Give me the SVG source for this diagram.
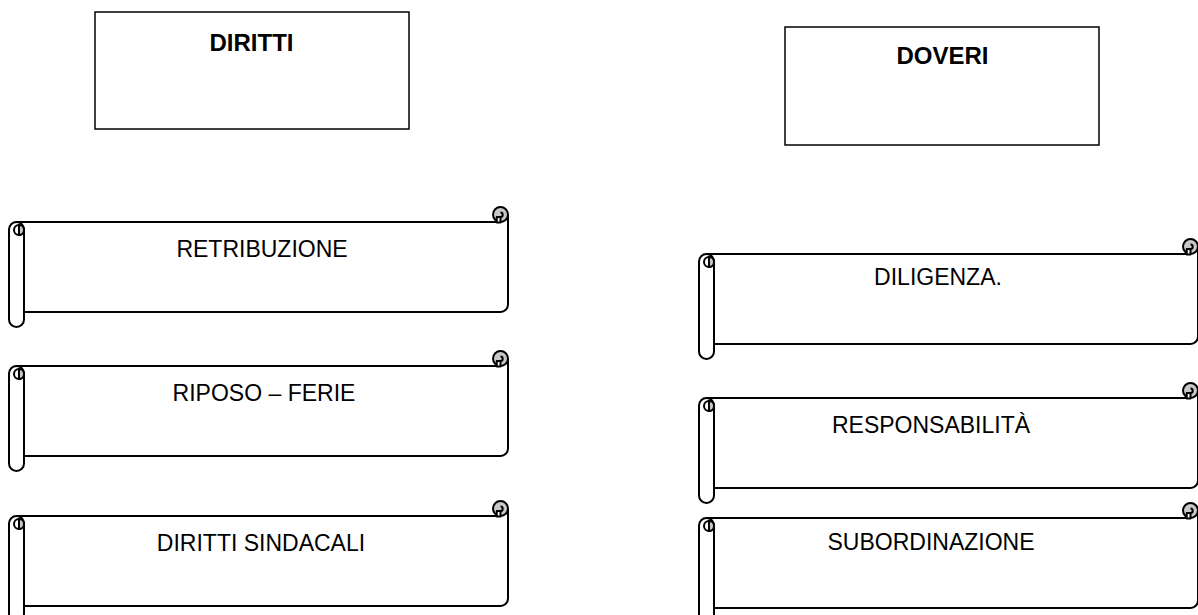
<svg xmlns="http://www.w3.org/2000/svg" xmlns:xlink="http://www.w3.org/1999/xlink" width="1198" height="615" viewBox="0 0 1198 615">
<style>
.box{fill:#fff;stroke:#000;stroke-width:1.5}
.ln{fill:none;stroke:#000;stroke-width:2;stroke-linejoin:round}
.wf{fill:#fff;stroke:#000;stroke-width:2;stroke-linejoin:round}
.gf{fill:#c8c8c8;stroke:#000;stroke-width:2}
.hd{font-family:"Liberation Sans",Arial,sans-serif;font-weight:bold;font-size:24px;text-anchor:middle;fill:#000}
.lb{font-family:"Liberation Sans",Arial,sans-serif;font-size:23px;text-anchor:middle;fill:#000}
</style>
<defs>
<g id="scroll">
<path d="M15,15 L499,15 L499,97.5 A7.5 7.5 0 0 1 491.5,105 L15,105 Z" fill="#fff"/>
<path class="ln" d="M7.5,15 L487.75,15"/>
<path class="ln" d="M499,7.5 L499,97.5 A7.5 7.5 0 0 1 491.5,105 L15,105"/>
<circle class="gf" cx="491.5" cy="7.5" r="7.5"/>
<path class="wf" d="M487.75,15.6 L487.75,10 L491.5,10 L491.5,15.6 Z"/>
<path class="ln" d="M491.5,10 A2.2 2.2 0 0 0 491.5,5.6"/>
<path class="wf" d="M0,22.5 A7.5 7.5 0 0 1 15,22.5 L15,112.5 A7.5 7.5 0 0 1 0,112.5 Z"/>
<circle class="wf" cx="10" cy="23" r="5"/>
<path class="gf" d="M10,18 A5 5 0 0 1 10,28 Z"/>
</g>
</defs>
<rect width="1198" height="615" fill="#fff"/>
<g id="diritti">
<rect class="box" x="95" y="12" width="314" height="117"/>
<text class="hd" x="251.5" y="51">DIRITTI</text>
</g>
<g id="doveri">
<rect class="box" x="785" y="27" width="314" height="118"/>
<text class="hd" x="942.5" y="64">DOVERI</text>
</g>
<g id="retribuzione">
<use xlink:href="#scroll" transform="translate(9,207)"/>
<text class="lb" x="262" y="257">RETRIBUZIONE</text>
</g>
<g id="riposo-ferie">
<use xlink:href="#scroll" transform="translate(9,351)"/>
<text class="lb" x="264" y="401">RIPOSO – FERIE</text>
</g>
<g id="diritti-sindacali">
<use xlink:href="#scroll" transform="translate(9,501)"/>
<text class="lb" x="261" y="551">DIRITTI SINDACALI</text>
</g>
<g id="diligenza">
<use xlink:href="#scroll" transform="translate(699,239)"/>
<text class="lb" x="938" y="285">DILIGENZA.</text>
</g>
<g id="responsabilita">
<use xlink:href="#scroll" transform="translate(699,383)"/>
<text class="lb" x="931" y="433">RESPONSABILITÀ</text>
</g>
<g id="subordinazione">
<use xlink:href="#scroll" transform="translate(699,503)"/>
<text class="lb" x="931" y="550">SUBORDINAZIONE</text>
</g>
<g id="connectors"></g>
</svg>
